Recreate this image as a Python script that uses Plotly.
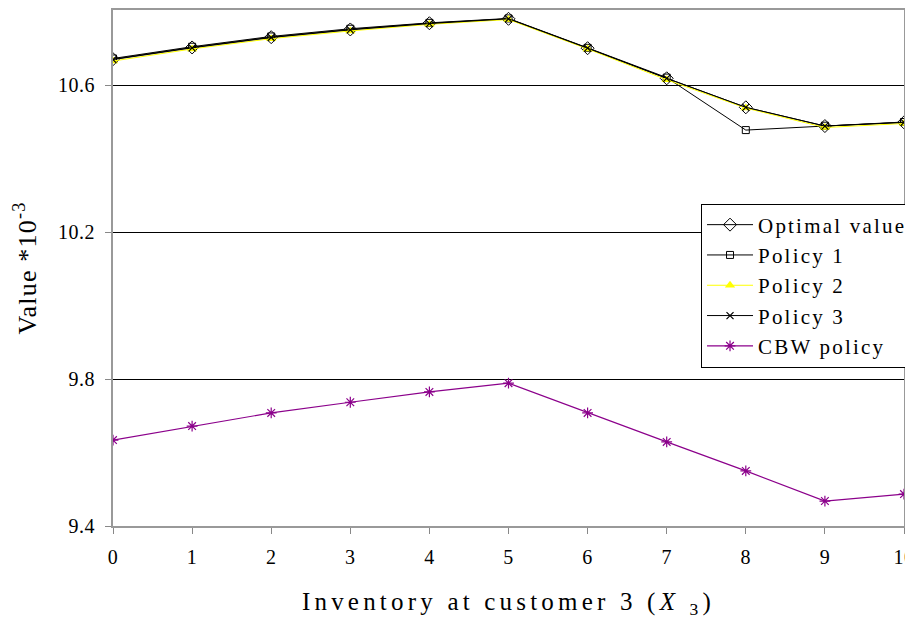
import plotly.graph_objects as go

x_vals = [0, 1, 2, 3, 4, 5, 6, 7, 8, 9, 10]
optimal = [10.671, 10.703, 10.731, 10.752, 10.769, 10.781, 10.701, 10.619, 10.540, 10.489, 10.499]
policy1 = [10.673, 10.705, 10.733, 10.754, 10.770, 10.782, 10.702, 10.621, 10.478, 10.490, 10.500]
policy2 = [10.666, 10.699, 10.727, 10.748, 10.766, 10.779, 10.699, 10.615, 10.538, 10.485, 10.496]
policy3 = [10.670, 10.702, 10.730, 10.751, 10.768, 10.781, 10.701, 10.619, 10.540, 10.489, 10.499]
cbw = [9.634, 9.672, 9.708, 9.737, 9.765, 9.789, 9.708, 9.629, 9.550, 9.468, 9.487]
y_ticks = [9.4, 9.8, 10.2, 10.6]
y_tick_text = ["9.4", "9.8", "10.2", "10.6"]

FONT = "Liberation Serif"

fig = go.Figure()
fig.add_trace(go.Scatter(x=x_vals, y=optimal, name="Optimal value", mode="lines+markers", legendgroup="a",
                         line=dict(color="black", width=1),
                         marker=dict(symbol="diamond-open", size=10, color="black", line=dict(width=1))))
fig.add_trace(go.Scatter(x=x_vals, y=policy1, name="Policy 1", mode="lines+markers", legendgroup="b",
                         line=dict(color="black", width=1),
                         marker=dict(symbol="square-open", size=7, color="black", line=dict(width=1))))
fig.add_trace(go.Scatter(x=x_vals, y=policy2, name="Policy 2", mode="lines+markers", legendgroup="c",
                         line=dict(color="#ffff00", width=1),
                         marker=dict(symbol="triangle-up", size=9, color="#ffff00")))
fig.add_trace(go.Scatter(x=x_vals, y=policy3, name="Policy 3", mode="lines+markers", legendgroup="d",
                         line=dict(color="black", width=1),
                         marker=dict(symbol="x-thin", size=7, color="black", line=dict(width=1.2, color="black"))))
fig.add_trace(go.Scatter(x=x_vals, y=cbw, name="CBW policy", mode="lines+markers", legendgroup="e",
                         line=dict(color="#8b008b", width=1.2),
                         marker=dict(symbol="asterisk", size=9, color="#8b008b", line=dict(width=1.2, color="#8b008b"))))

# page body has an 8px margin: figure origin is at (8, 8)
fig.update_layout(
    width=905, height=613,
    margin=dict(l=105, r=9, t=2, b=95, autoexpand=False),
    plot_bgcolor="white", paper_bgcolor="white",
    font=dict(family=FONT, color="black", size=20),
    showlegend=True,
    legend=dict(x=1.0114, xanchor="right", y=0.625, yanchor="top",
                bgcolor="white", bordercolor="black", borderwidth=1,
                font=dict(family=FONT, size=21), tracegroupgap=0,
                itemwidth=46),
    xaxis=dict(range=[0, 10], tickvals=x_vals, ticks="outside", ticklen=6, tickcolor="#888",
               showline=True, linecolor="#999", linewidth=2, mirror=True, showgrid=False, zeroline=False,
               automargin=False, ticklabelstandoff=6, ticklabeloverflow="allow",
               tickfont=dict(size=20), title=dict(text="Inventory at customer 3 (<i>X</i> <sub>3</sub>)",
               font=dict(size=25), standoff=25)),
    yaxis=dict(range=[9.4, 10.805], tickvals=y_ticks, ticktext=y_tick_text,
               ticks="outside", ticklen=6, tickcolor="#888",
               showline=True, linecolor="#999", linewidth=2, mirror=True,
               showgrid=True, gridcolor="black", gridwidth=1, zeroline=False,
               automargin=False, ticklabelstandoff=6, ticklabeloverflow="allow",
               tickfont=dict(size=20), title=dict(text="Value *10<sup>-3</sup>", font=dict(size=26), standoff=16)),
)

post = """
var st = document.createElement('style');
st.textContent = '.legendtext{letter-spacing:2.2px} .xtitle{letter-spacing:4.2px} .ytitle, .g-ytitle text{letter-spacing:1.2px} .xtick text,.ytick text{letter-spacing:0.5px}';
document.head.appendChild(st);
var gd = document.getElementById('{plot_id}');
return Plotly.relayout(gd, {'legend.font.family': 'Liberation Serif, serif'});
"""

fig.write_html("out.html", post_script=post)
